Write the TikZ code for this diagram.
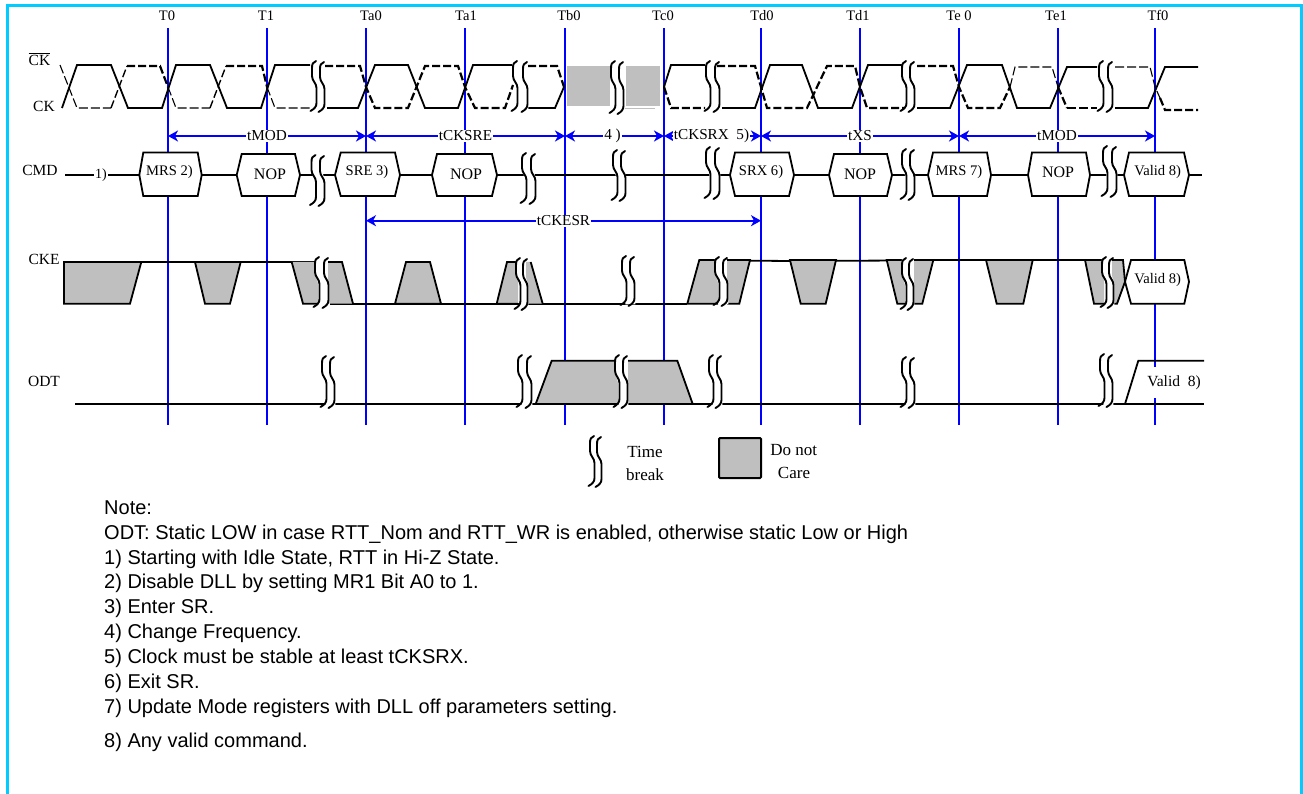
\documentclass[tikz,border=0pt]{standalone}
\usepackage{fontspec}
\setmainfont{Liberation Serif}
\newfontfamily\notefont{Liberation Sans}
\usetikzlibrary{arrows.meta}
\definecolor{framecyan}{RGB}{0,204,255}
\definecolor{dcgray}{RGB}{191,191,191}
\definecolor{gridblue}{RGB}{0,0,255}
\tikzset{
  frameline/.style={draw=framecyan,line width=2.7pt},
  gridline/.style={draw=gridblue,line width=1.9pt},
  timing/.style={draw=gridblue,line width=1.9pt,{Stealth[length=10pt,width=11pt,inset=3pt]}-{Stealth[length=10pt,width=11pt,inset=3pt]}},
  sig/.style={draw=black,line width=1.8pt,line join=miter},
  dthin/.style={draw=black,line width=1.1pt,dash pattern=on 9pt off 3pt},
  dthick/.style={draw=black,line width=2.2pt,dash pattern=on 8pt off 3pt},
  dcshape/.style={draw=black,line width=1.8pt,fill=dcgray,line join=miter},
  dcflat/.style={fill=dcgray},
  wave/.style={draw=black,line width=1.9pt,line cap=round},
  lbl/.style={font=\fontsize{14.5}{16}\selectfont,inner sep=0pt},
  rowlbl/.style={font=\fontsize{15.5}{17}\selectfont,inner sep=0pt},
  leglbl/.style={font=\fontsize{17}{19}\selectfont,inner sep=0pt,anchor=base},
  tlbl/.style={font=\fontsize{15.2}{17}\selectfont,inner sep=1pt,fill=white},
  hexlbl/.style={font=\fontsize{14.6}{16}\selectfont,inner sep=0pt},
  noplbl/.style={font=\fontsize{16}{18}\selectfont,inner sep=0pt},
  note/.style={font=\notefont\fontsize{20}{22}\selectfont,anchor=base west,inner sep=0pt},
  hexbox/.style={draw=black,line width=1.8pt,fill=white,line join=miter}
}
\newcommand{\brk}[4]{%
  \pgfmathsetmacro{\brkys}{(#4-#3)/50}%
  \pgfmathsetmacro{\brkd}{#2-#1}%
  \begin{scope}[shift={(#1,#3)},yscale=\brkys]
    \fill[white,draw=white,line width=2.5pt] (1,2) -- (1,15) -- (4.5,27) -- (4.5,48) -- (\brkd+4,48) -- (\brkd+4,27) -- (\brkd+.5,15) -- (\brkd+.5,2) -- cycle;
    \draw[wave] (4,0) .. controls (1,1) and (0,3) .. (0,7) -- (0,15) .. controls (0,20) and (4.5,22) .. (4.5,27) -- (4.5,42) .. controls (4.5,46) and (2,48) .. (-1.5,50);
    \begin{scope}[shift={(\brkd,1)}]
    \draw[wave] (4,0) .. controls (1,1) and (0,3) .. (0,7) -- (0,15) .. controls (0,20) and (4.5,22) .. (4.5,27) -- (4.5,42) .. controls (4.5,46) and (2,48) .. (-1.5,50);
    \end{scope}
  \end{scope}}
\begin{document}
\begin{tikzpicture}[x=1pt,y=-1pt]
\useasboundingbox (0,0) rectangle (1303,794);
\fill[white] (0,0) rectangle (1303,794);
% frame
\draw[frameline] (7.5,794) -- (7.5,5.5) -- (1301.5,5.5) -- (1301.5,794);
% vertical lines and tick names
\foreach \n/\x/\lx/\t in {T0/168/167/T0,T1/267/266/T1,Ta0/366/371/Ta0,Ta1/465/466/Ta1,Tb0/565/569/Tb0,Tc0/664/663/Tc0,Td0/761/762/Td0,Td1/860/858/Td1,Te0/959/959/Te 0,Te1/1058/1056/Te1,Tf0/1155/1158/Tf0}{
  \coordinate (\n top) at (\x,28.5);
  \coordinate (\n bot) at (\x,425);
  \coordinate (\n a) at (\x,136);
  \coordinate (\n b) at (\x,220.7);
  \node[lbl] (\n lab) at (\lx,15.5) {\t};
  \draw[gridline] (\n top) -- (\n bot);
}
% signal names
\node[rowlbl] (nckb) at (39.5,59) {$\overline{\mbox{CK}}$};
\node[rowlbl] (nck) at (44,106) {CK};
\node[rowlbl] (ncmd) at (40,170) {CMD};
\node[rowlbl] (ncke) at (44,259) {CKE};
\node[rowlbl] (nodt) at (44,381) {ODT};
% inverted clock
\draw[dthin] (60,65) -- (77,108) -- (111,108);
\draw[dthick,line width=1.4pt] (111,108) -- (127,66);
\draw[dthick] (127,66) -- (160,66) -- (168,87);
\draw[dthin] (168,87) -- (176,108) -- (210,108);
\draw[dthick,line width=1.4pt] (210,108) -- (226,66);
\draw[dthick] (226,66) -- (262,66) -- (267,87);
\draw[dthin] (267,87) -- (275,108) -- (310,108);
\draw[dthick] (325,66) -- (360,66) -- (366,87) -- (375,108) -- (408,108) -- (425,66) -- (458,66) -- (465,87) -- (475,108) -- (505,108) -- (513,85);
\draw[dthick] (528,66) -- (557,66) -- (564,87);
\draw[dthick] (664,87) -- (671,108) -- (705,108);
\draw[dthick] (717,66) -- (755,66) -- (761,87) -- (767,108) -- (807,108) -- (827,66) -- (855,66) -- (860,87) -- (867,108) -- (905,108);
\draw[dthick] (917,66) -- (953,66) -- (959,87) -- (968,108) -- (1000,108) -- (1010,87);
\draw[dthin] (1010,87) -- (1015,67) -- (1052,67) -- (1058,87);
\draw[dthick] (1058,87) -- (1067,108);
\draw[dthin] (1067,108) -- (1097,108);
\draw[dthin] (1115,67) -- (1150,67) -- (1155,87) -- (1160,98);
\draw[dthick] (1160,98) -- (1165,110) -- (1198,110);
% clock
\draw[sig] (62,108) -- (77,65) -- (111,65) -- (128,108) -- (162,108) -- (176,65) -- (210,65) -- (227,108) -- (261,108) -- (275,65) -- (310,65);
\draw[sig] (327,108) -- (358,108) -- (375,65) -- (408,65) -- (425,108) -- (458,108) -- (473,65) -- (512,65);
\draw[sig] (528,108) -- (555,108) -- (564,87);
\draw[sig] (664,87) -- (671,65) -- (705,65);
\draw[sig] (722,108) -- (755,108) -- (770,65) -- (802,65) -- (818,108) -- (852,108) -- (868,65) -- (902,65);
\draw[sig] (917,108) -- (950,108) -- (967,65) -- (1002,65) -- (1017,108) -- (1050,108) -- (1067,67) -- (1097,67);
\draw[sig] (1115,108) -- (1148,108) -- (1165,67) -- (1198,67);
% do-not-care boxes in the clock
\draw[draw=black!25,line width=0.9pt] (625,108.5) -- (655,108.5);
\fill[dcgray,draw=white,line width=1pt] (566,66) rectangle (610,107);
\fill[dcgray,draw=white,line width=1pt] (625.7,66) rectangle (660.7,107);
% timing arrows
\draw[timing] (T0a) -- node[tlbl] (lb1) {tMOD} (Ta0a);
\draw[timing] (Ta0a) -- node[tlbl] (lb2) {tCKSRE} (Tb0a);
\draw[timing] (Tb0a) -- node[tlbl,pos=.48] (lb3) {4 )} (Tc0a);
\draw[timing] (Tc0a) -- node[tlbl,pos=.49] (lb4) {tCKSRX\ \ 5)} (Td0a);
\draw[timing] (Td0a) -- node[tlbl] (lb5) {tXS} (Te0a);
\draw[timing] (Te0a) -- node[tlbl] (lb6) {tMOD} (Tf0a);
\draw[timing] (Ta0b) -- node[tlbl] (lb7) {tCKESR} (Td0b);
% CMD
\coordinate (cmdL) at (65,175);
\coordinate (cmdR) at (1202,175);
\draw[sig] (cmdL) -- (cmdR);
\node[tlbl,font=\fontsize{14}{15}\selectfont] (one) at (101,175) {1)};
\foreach \n/\a/\b/\c/\d/\tp/\t/\lx/\ly/\st in {
 h1/139.3/143.3/197.7/201.7/152.5/MRS 2)/169.5/172/hexlbl,
 h2/236.7/241.7/295/300/154/NOP/270/174/noplbl,
 h3/335/340.7/395/400/152.5/SRE 3)/367/172/hexlbl,
 h4/432/437/492/497/154/NOP/466/174/noplbl,
 h5/730/735/789/794/152.5/SRX 6)/761/172/hexlbl,
 h6/829/834/887/892/154/NOP/860/174/noplbl,
 h7/928/933/987/991/152.5/MRS 7)/959/172/hexlbl,
 h8/1028/1032/1086/1090/152.5/NOP/1058/172/noplbl,
 h9/1124/1129/1184/1189/152.5/Valid 8)/1157.7/172/hexlbl}{
  \draw[hexbox] (\a,175) -- (\b,\tp) -- (\c,\tp) -- (\d,175) -- (\c,196) -- (\b,196) -- cycle;
  \node[\st] (\n) at (\lx,\ly) {\t};
}
% CKE
\draw[sig] (64,262) -- (315,262);
\draw[sig] (330,303.7) -- (687,303.7);
\draw[sig] (729,260.5) -- (790,261) -- (902,260.5);
\draw[sig] (916.7,260) -- (1102,260);
\draw[dcshape] (64,262) -- (141.3,262) -- (130,303.7) -- (64,303.7) -- cycle;
\draw[dcshape] (195,262) -- (240.7,262) -- (230,303.7) -- (205,303.7) -- cycle;
\fill[dcflat] (291.7,262) -- (318,262) -- (318,303.7) -- (303,303.7) -- cycle;
\draw[sig] (291.7,262) -- (303,303.7) -- (318,303.7);
\fill[dcflat] (328,262) -- (342,262) -- (353,303.7) -- (328,303.7) -- cycle;
\draw[sig] (328,262) -- (342,262) -- (353,303.7);
\draw[dcshape] (395,303.7) -- (406,262) -- (430,262) -- (441,303.7) -- cycle;
\fill[dcflat] (496.7,303.7) -- (507,262) -- (518,262) -- (518,303.7) -- cycle;
\draw[sig] (518,303.7) -- (496.7,303.7) -- (507,262) -- (518,262);
\fill[dcflat] (526,262) -- (530.7,262) -- (542.7,303.7) -- (526,303.7) -- cycle;
\draw[sig] (530.7,262) -- (542.7,303.7);
\fill[dcflat] (687.3,303.7) -- (699.3,260) -- (718,260) -- (718,303.7) -- cycle;
\draw[sig] (718,303.7) -- (687.3,303.7) -- (699.3,260) -- (718,260);
\fill[dcflat] (727,260) -- (750,260) -- (739.3,303.7) -- (727,303.7) -- cycle;
\draw[sig] (727,260) -- (750,260) -- (739.3,303.7) -- (727,303.7);
\draw[dcshape] (790,260) -- (836,260) -- (825.7,303.7) -- (800.7,303.7) -- cycle;
\fill[dcflat] (886.7,260) -- (905,260) -- (905,303.7) -- (897.3,303.7) -- cycle;
\draw[sig] (905,260) -- (886.7,260) -- (897.3,303.7) -- (905,303.7);
\fill[dcflat] (914,260) -- (933.3,260) -- (922.3,303.7) -- (914,303.7) -- cycle;
\draw[sig] (914,260) -- (933.3,260) -- (922.3,303.7) -- (914,303.7);
\draw[dcshape] (986,260) -- (1032.7,260) -- (1023.3,303.7) -- (996.7,303.7) -- cycle;
\fill[dcflat] (1085,260) -- (1104,260) -- (1104,303.7) -- (1094,303.7) -- cycle;
\draw[sig] (1104,260) -- (1085,260) -- (1094,303.7) -- (1104,303.7);
\fill[dcflat] (1112,260) -- (1123,260) -- (1125,281.7) -- (1117,303.7) -- (1112,303.7) -- cycle;
\draw[sig] (1112,303.7) -- (1117,303.7) -- (1125,281.7) -- (1123,260) -- (1112,260);
\draw[hexbox] (1125,281.7) -- (1131,260) -- (1184.3,260) -- (1189,281.7) -- (1184.3,303.7) -- (1131,303.7) -- cycle;
\node[hexlbl] (h10) at (1157.7,280) {Valid 8)};
% ODT
\coordinate (odtL) at (75,404);
\coordinate (odtR) at (1204,404);
\draw[sig] (odtL) -- (odtR);
\fill[dcflat] (535.7,404) -- (551.7,360.7) -- (618,360.7) -- (618,404) -- cycle;
\draw[sig] (618,404) -- (535.7,404) -- (551.7,360.7) -- (618,360.7);
\fill[dcflat] (628,360.7) -- (677.3,360.7) -- (692.7,404) -- (628,404) -- cycle;
\draw[sig] (628,360.7) -- (677.3,360.7) -- (692.7,404) -- (628,404);
\draw[sig] (1125,404) -- (1138.3,360.7) -- (1204,360.7);
\node[fill=white,inner sep=1pt,minimum height=31pt,font=\fontsize{15.5}{17}\selectfont] (v11) at (1174,382.5) {Valid\ \ 8)};
% time breaks
\brk{312}{320}{61}{111}
\brk{513}{523}{61}{111}
\brk{611}{619}{61}{113}
\brk{706}{715}{61}{111}
\brk{902}{910}{61}{111}
\brk{1099}{1108}{61}{111}
\brk{311.5}{320}{155}{205}
\brk{522}{531}{153}{203}
\brk{613}{621}{150}{200}
\brk{706}{715}{147}{198}
\brk{902}{910}{149}{199}
\brk{1103}{1112}{146}{196}
\brk{315}{324}{257}{307}
\brk{516}{523}{258}{309}
\brk{622}{630}{256}{305}
\brk{715}{723}{257}{305}
\brk{902}{909}{258}{309}
\brk{1102}{1109}{257}{307}
\brk{322}{330}{356}{407}
\brk{518}{527}{355}{407}
\brk{615}{623}{355}{407}
\brk{709}{717}{355}{407}
\brk{902}{910}{357}{407}
\brk{1100}{1108}{354}{406}
% legend
\brk{590}{597}{436}{486}
\node[leglbl] (tb1) at (645,457) {Time};
\node[leglbl] (tb2) at (645,480) {break};
\draw[draw=black,line width=2pt,fill=dcgray,rounded corners=1pt] (719,438) rectangle (761,478);
\node[leglbl] (dc1) at (793.7,455) {Do not};
\node[leglbl] (dc2) at (794,478) {Care};
% notes
\node[note] (n0) at (104,514) {Note:};
\node[note] (n1) at (104,539) {ODT: Static LOW in case RTT\_Nom and RTT\_WR is enabled, otherwise static Low or High};
\node[note] (n2) at (104,564) {1) Starting with Idle State, RTT in Hi-Z State.};
\node[note] (n3) at (104,588) {2) Disable DLL by setting MR1 Bit A0 to 1.};
\node[note] (n4) at (104,613) {3) Enter SR.};
\node[note] (n5) at (104,638) {4) Change Frequency.};
\node[note] (n6) at (104,663) {5) Clock must be stable at least tCKSRX.};
\node[note] (n7) at (104,688) {6) Exit SR.};
\node[note] (n8) at (104,713) {7) Update Mode registers with DLL off parameters setting.};
\node[note] (n9) at (104,747) {8) Any valid command.};
\end{tikzpicture}
\end{document}
